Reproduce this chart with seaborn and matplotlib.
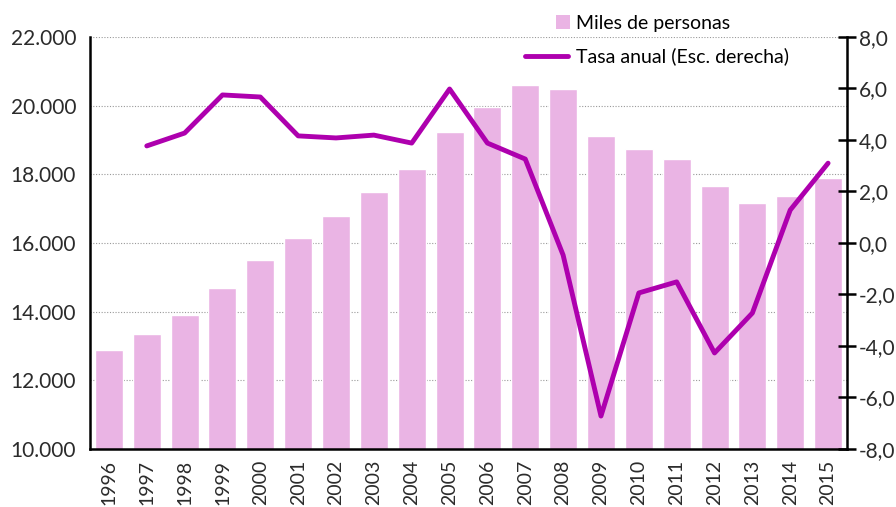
import numpy as np
import pandas as pd
import seaborn as sns
import matplotlib.pyplot as plt
from matplotlib.ticker import FixedLocator, FuncFormatter
from matplotlib.patches import Patch, Rectangle
from matplotlib.lines import Line2D
from matplotlib.legend_handler import HandlerPatch

years = [str(y) for y in range(1996, 2016)]
miles = [12880, 13350, 13900, 14690, 15500, 16150, 16800, 17490, 18160, 19230,
         19960, 20600, 20490, 19120, 18740, 18450, 17660, 17170, 17370, 17890]
tasa_years = years[1:]
tasa = [3.77, 4.27, 5.75, 5.67, 4.16, 4.08, 4.19, 3.88, 5.98, 3.88,
        3.26, -0.47, -6.72, -1.94, -1.51, -4.27, -2.72, 1.28, 3.10]

bar_color = "#EAB4E4"
line_color = "#AE00AE"
text_color = "#2b2b2b"

sns.set_style("white")
plt.rcParams['font.family'] = ['Lato', 'DejaVu Sans']

fig = plt.figure(figsize=(8.96, 5.07), dpi=100)
ax = fig.add_axes([90 / 896, 1 - 449 / 507, 757 / 896, 412 / 507])

df_bar = pd.DataFrame({"anio": years, "miles": miles})
sns.barplot(data=df_bar, x="anio", y="miles", color=bar_color, width=0.74,
            saturation=1, ax=ax, zorder=2)
ax.set_xlim(-0.5, len(years) - 0.5)
ax.set_ylim(10000, 22000)
ax.set_yticks(range(10000, 22001, 2000))
ax.yaxis.set_major_formatter(FuncFormatter(lambda v, p: f"{int(v):,}".replace(",", ".")))
ax.grid(axis="y", color="#999999", linestyle=(0, (1, 1.5)), linewidth=0.8, zorder=0)
ax.set_axisbelow(True)
ax.set_xlabel("")
ax.set_ylabel("")

for s in ["top", "right"]:
    ax.spines[s].set_visible(False)
for s in ["left", "bottom"]:
    ax.spines[s].set_color("black")
    ax.spines[s].set_linewidth(1.8)

ax.tick_params(axis="y", length=0, labelsize=15, labelcolor=text_color, pad=10)
ax.tick_params(axis="x", which="major", length=0, labelsize=14, labelcolor=text_color,
               rotation=90, pad=8)
ax.xaxis.set_minor_locator(FixedLocator(np.arange(-0.5, len(years), 1.0)))
ax.tick_params(axis="x", which="minor", direction="inout", length=13, width=1.8,
               color="black")

ax2 = ax.twinx()
pos = {y: i for i, y in enumerate(years)}
df_line = pd.DataFrame({"x": [pos[y] for y in tasa_years], "tasa": tasa})
sns.lineplot(data=df_line, x="x", y="tasa", color=line_color, linewidth=3.5, ax=ax2,
             zorder=3)
ax2.set_ylim(-8, 8)
ax2.set_yticks(np.arange(-8, 8.1, 2))
ax2.yaxis.set_major_formatter(FuncFormatter(lambda v, p: f"{v:.1f}".replace(".", ",")))
ax2.set_ylabel("")
ax2.set_xlim(-0.5, len(years) - 0.5)
for s in ["top", "left", "bottom"]:
    ax2.spines[s].set_visible(False)
ax2.spines["right"].set_color("black")
ax2.spines["right"].set_linewidth(1.8)
ax2.tick_params(axis="y", direction="inout", length=13, width=1.8, color="black",
                labelsize=15, labelcolor=text_color, pad=2)


# small square at the right end of the handle area, like the original legend
def square_patch(legend, orig_handle, xdescent, ydescent, width, height, fontsize):
    side = 0.72 * fontsize
    return Rectangle((width - side - xdescent + 1, (height - side) / 2 - ydescent),
                     side, side)


handles = [Patch(facecolor=bar_color, edgecolor="none"),
           Line2D([0], [0], color=line_color, linewidth=3.5, solid_capstyle="round")]
fig.legend(handles, ["Miles de personas", "Tasa anual (Esc. derecha)"],
           loc="upper left", bbox_to_anchor=(507 / 896, 1.005), frameon=False,
           fontsize=14, labelspacing=0.8, handlelength=2.25, handletextpad=0.4,
           labelcolor="black",
           handler_map={Patch: HandlerPatch(patch_func=square_patch)})

fig.savefig("out.png", dpi=100)
